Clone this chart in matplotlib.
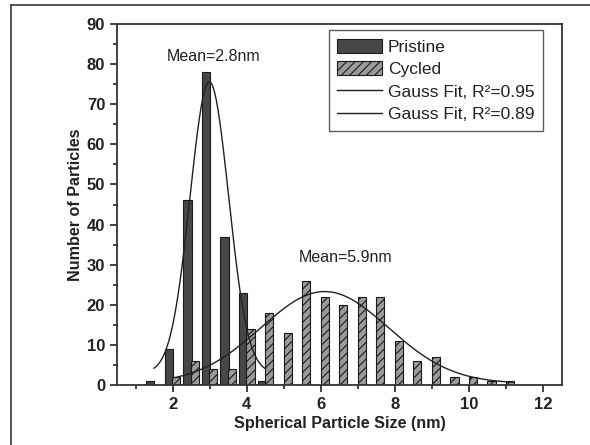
import numpy as np
import matplotlib
matplotlib.use("Agg")
import matplotlib.pyplot as plt
from matplotlib.lines import Line2D

plt.rcParams['font.family'] = ['Liberation Sans', 'DejaVu Sans']
plt.rcParams['hatch.linewidth'] = 0.8
plt.rcParams['hatch.color'] = '#222222'

# Data
pristine_x = [1.4, 1.9, 2.4, 2.9, 3.4, 3.9, 4.4]
pristine_n = [1, 9, 46, 78, 37, 23, 1]
cycled_x = [2.1, 2.6, 3.1, 3.6, 4.1, 4.6, 5.1, 5.6, 6.1, 6.6, 7.1, 7.6, 8.1,
            8.6, 9.1, 9.6, 10.1, 10.6, 11.1]
cycled_n = [2, 6, 4, 4, 14, 18, 13, 26, 22, 20, 22, 22, 11, 6, 7, 2, 2, 1, 1]

# Gauss fit parameters (y0, A, xc, sigma) and fit ranges
fit_pristine = (3.0, 72.6, 2.99, 0.52)
fit_pristine_range = (1.5, 4.5)
fit_cycled = (0.4, 22.9, 6.1, 1.72)
fit_cycled_range = (2.0, 11.2)

labels = ['Pristine', 'Cycled', 'Gauss Fit, R²=0.95', 'Gauss Fit, R²=0.89']
xticks = [2, 4, 6, 8, 10, 12]
yticks = [0, 10, 20, 30, 40, 50, 60, 70, 80, 90]

def gauss(x, p):
    y0, A, xc, s = p
    return y0 + A * np.exp(-(x - xc) ** 2 / (2 * s ** 2))

fig = plt.figure(figsize=(5.9, 4.45), dpi=100)
ax = fig.add_axes([117 / 590, 1 - 385 / 445, (562 - 117) / 590, (385 - 24) / 445])

# outer frame (left and top edges visible)
fl, ft = 11 / 590, 1 - 5 / 445
fig.lines.append(Line2D([fl, fl], [-0.1, ft], transform=fig.transFigure,
                        color='#555555', lw=1.4))
fig.lines.append(Line2D([fl, 1.1], [ft, ft], transform=fig.transFigure,
                        color='#555555', lw=1.4))

bw = 0.22
b1 = ax.bar(pristine_x, pristine_n, width=bw, color='#474747', edgecolor='#1a1a1a',
            linewidth=0.8, zorder=2)
b2 = ax.bar(cycled_x, cycled_n, width=bw, color='#9a9a9a', edgecolor='#1a1a1a',
            linewidth=0.8, hatch='////', zorder=2)

xp = np.linspace(*fit_pristine_range, 200)
xc_ = np.linspace(*fit_cycled_range, 300)
l1, = ax.plot(xp, gauss(xp, fit_pristine), color='#222222', lw=1.0, zorder=3)
l2, = ax.plot(xc_, gauss(xc_, fit_cycled), color='#222222', lw=1.0, zorder=3)

ax.text(3.1, 82, 'Mean=2.8nm', ha='center', va='center', fontsize=11.5, color='#222222')
ax.text(6.65, 31.7, 'Mean=5.9nm', ha='center', va='center', fontsize=11.5, color='#222222')

ax.set_xlim(0.5, 12.5)
ax.set_ylim(0, 90)
ax.set_xticks(xticks)
ax.set_xticks([1, 3, 5, 7, 9, 11], minor=True)
ax.set_yticks(yticks)
ax.set_yticks(np.arange(5, 90, 10), minor=True)
ax.tick_params(which='major', direction='out', length=5, width=1.2, colors='#222222',
               labelsize=12)
ax.tick_params(which='minor', direction='out', length=3, width=1.2, colors='#222222')
for lab in ax.get_xticklabels() + ax.get_yticklabels():
    lab.set_fontweight('bold')
for sp in ax.spines.values():
    sp.set_linewidth(1.3)
    sp.set_color('#333333')

ax.set_xlabel('Spherical Particle Size (nm)', fontsize=11.6, fontweight='bold',
              color='#222222', labelpad=3)
ax.set_ylabel('Number of Particles', fontsize=11.6, fontweight='bold',
              color='#222222', labelpad=3)

leg = ax.legend([b1, b2, l1, l2], labels, loc='upper right',
                bbox_to_anchor=(543 / 590, 1 - 30 / 445),
                bbox_transform=fig.transFigure, fontsize=12.5, frameon=True,
                fancybox=False, edgecolor='#333333', handlelength=2.6,
                handleheight=0.85, borderpad=0.5, labelspacing=0.38,
                handletextpad=0.3, borderaxespad=0)
leg.get_frame().set_linewidth(1.0)
for t in leg.get_texts():
    t.set_color('#222222')

fig.savefig('out.png', dpi=100)
